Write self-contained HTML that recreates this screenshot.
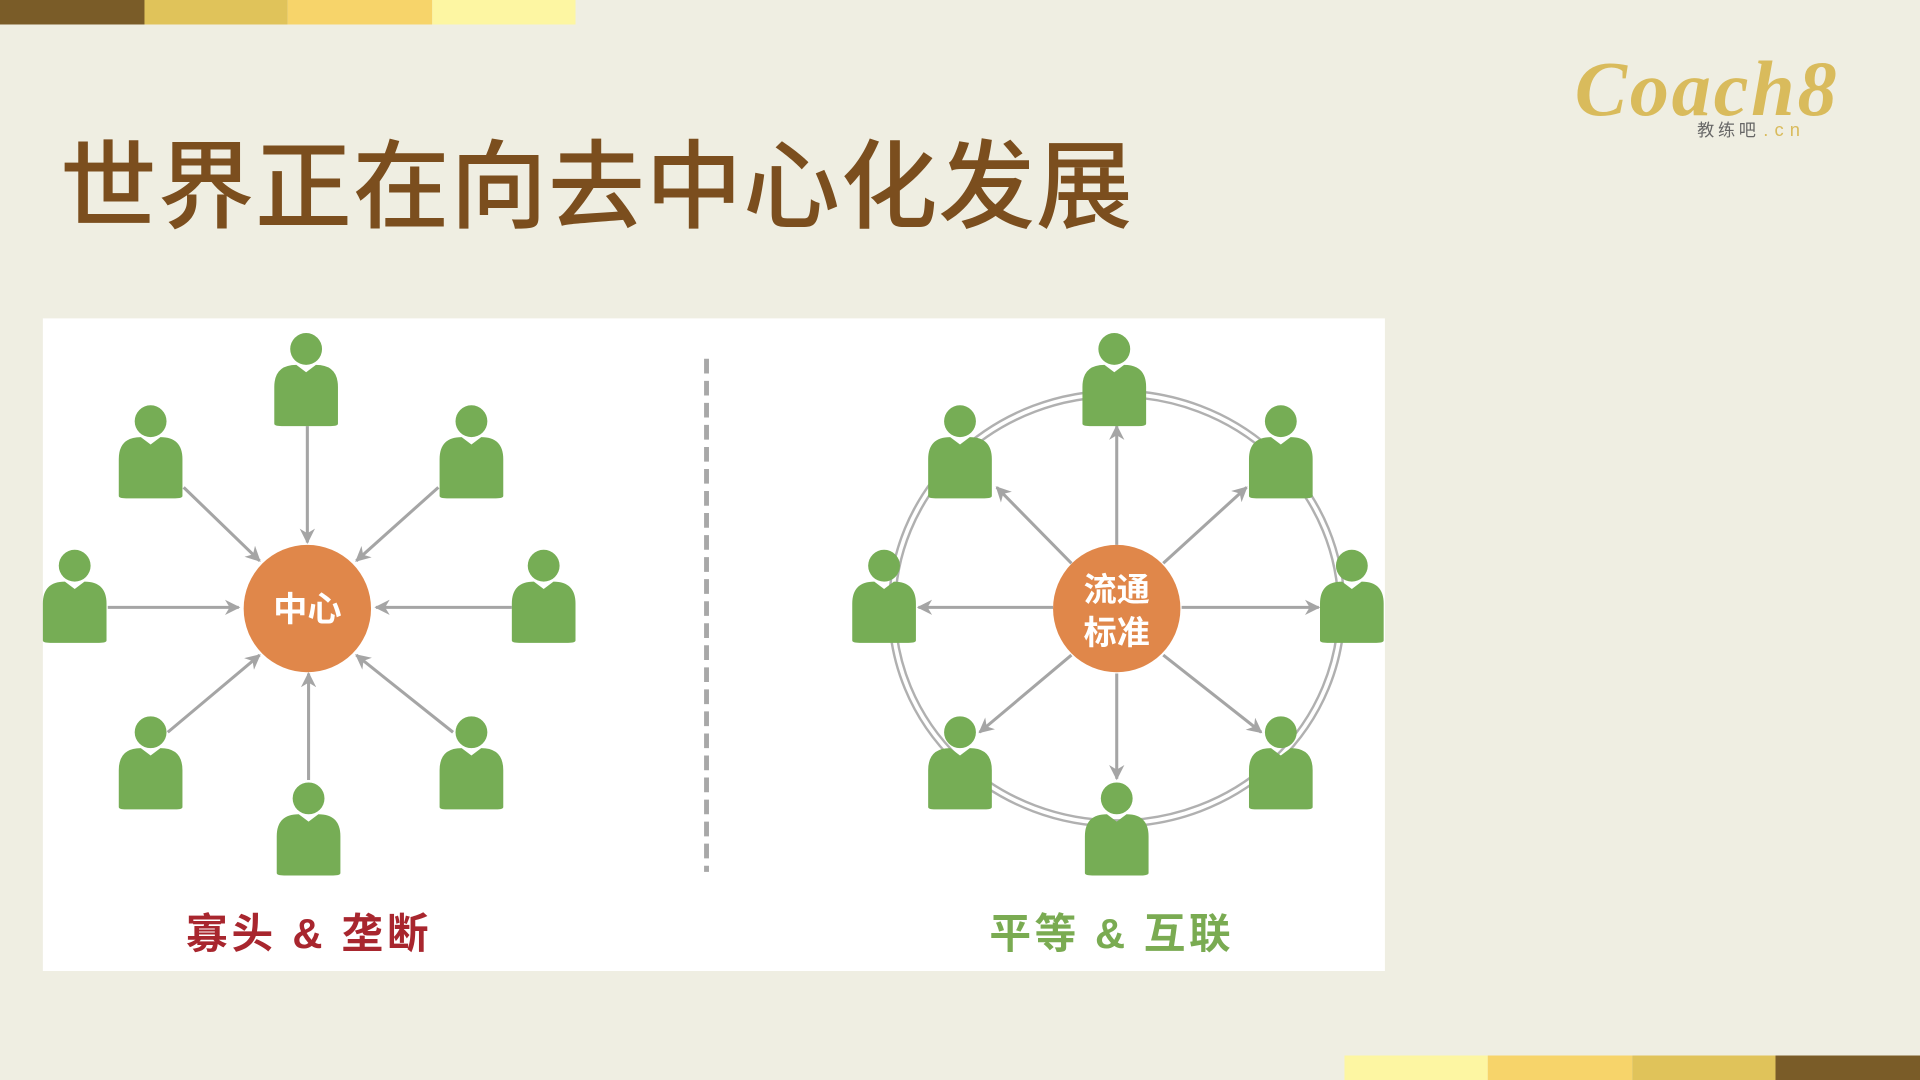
<!DOCTYPE html>
<html><head><meta charset="utf-8"><style>
html,body{margin:0;padding:0;background:#efeee2;}
svg{display:block}
</style></head><body>
<svg width="1920" height="1080" viewBox="0 0 1568 882" xmlns="http://www.w3.org/2000/svg">
<defs>
<marker id="ar" viewBox="0 0 10 10" refX="9" refY="5" markerWidth="5" markerHeight="5" orient="auto"><path d="M0,0 L10,5 L0,10 L3,5 z" fill="#a5a5a5"/></marker>
<g id="p"><circle cx="0" cy="-13" r="13" fill="#76ad55"/><path d="M-26,48 L-26,18 Q-26,0 -8,0 L0,6 L8,0 Q26,0 26,18 L26,48 Q26,50 20,50 L-20,50 Q-26,50 -26,48 z" fill="#76ad55"/></g>
</defs>
<rect width="1568" height="882" fill="#efeee2"/>
<rect x="0" y="0" width="118" height="20" fill="#7a5c28"/>
<rect x="118" y="0" width="117" height="20" fill="#e0c35a"/>
<rect x="235" y="0" width="118" height="20" fill="#f7d46a"/>
<rect x="353" y="0" width="117" height="20" fill="#fdf6a2"/>
<rect x="1098" y="862" width="117" height="20" fill="#fdf6a2"/>
<rect x="1215" y="862" width="118" height="20" fill="#f7d46a"/>
<rect x="1333" y="862" width="117" height="20" fill="#e0c35a"/>
<rect x="1450" y="862" width="118" height="20" fill="#7a5c28"/>
<text x="49" y="180" font-family="'Noto Sans CJK SC',sans-serif" font-size="79" font-weight="500" fill="#7b4e1e" textLength="876">世界正在向去中心化发展</text>
<text x="1286" y="94" font-family="Liberation Serif,serif" font-style="italic" font-weight="bold" font-size="64" fill="#d9bb5c" textLength="214">Coach8</text>
<text x="1386" y="111" font-family="'Noto Sans CJK SC',sans-serif" font-size="14" fill="#666" letter-spacing="3">教练吧</text>
<text x="1440" y="111" font-family="Liberation Sans,sans-serif" font-size="15" fill="#d9bb5c" letter-spacing="5">.cn</text>
<rect x="35" y="260" width="1096" height="533" fill="#ffffff"/>
<g stroke="#a5a5a5" stroke-width="2.5" marker-end="url(#ar)" fill="none">
<line x1="251" y1="348" x2="251" y2="443"/><line x1="88" y1="496" x2="195" y2="496"/><line x1="418" y1="496" x2="307" y2="496"/>
<line x1="150" y1="398" x2="212" y2="458"/><line x1="358" y1="398" x2="291" y2="458"/>
<line x1="137" y1="598" x2="212" y2="535"/><line x1="370" y1="598" x2="291" y2="535"/>
<line x1="252" y1="637" x2="252" y2="550"/>
</g>
<line x1="577" y1="293" x2="577" y2="712" stroke="#a8a8a8" stroke-width="4" stroke-dasharray="12 6"/>
<ellipse cx="912" cy="497" rx="186" ry="178" fill="none" stroke="#b0b0b0" stroke-width="2"/>
<ellipse cx="912" cy="497" rx="181" ry="173" fill="none" stroke="#b0b0b0" stroke-width="2"/>
<g stroke="#a5a5a5" stroke-width="2.5" marker-end="url(#ar)" fill="none">
<line x1="912" y1="445" x2="912" y2="348"/><line x1="860" y1="496" x2="750" y2="496"/><line x1="965" y1="496" x2="1077" y2="496"/>
<line x1="875" y1="460" x2="814" y2="398"/><line x1="950" y1="460" x2="1018" y2="398"/>
<line x1="875" y1="535" x2="800" y2="598"/><line x1="950" y1="535" x2="1030" y2="598"/>
<line x1="912" y1="550" x2="912" y2="636"/>
</g>
<use href="#p" x="250" y="298"/><use href="#p" x="123" y="357"/><use href="#p" x="385" y="357"/>
<use href="#p" x="61" y="475"/><use href="#p" x="444" y="475"/>
<use href="#p" x="123" y="611"/><use href="#p" x="385" y="611"/><use href="#p" x="252" y="665"/>
<use href="#p" x="910" y="298"/><use href="#p" x="784" y="357"/><use href="#p" x="1046" y="357"/>
<use href="#p" x="722" y="475"/><use href="#p" x="1104" y="475"/>
<use href="#p" x="784" y="611"/><use href="#p" x="1046" y="611"/><use href="#p" x="912" y="665"/>
<circle cx="251" cy="497" r="52" fill="#e0874a"/>
<circle cx="912" cy="497" r="52" fill="#e0874a"/>
<g font-family="Liberation Sans,'Noto Sans CJK SC',sans-serif" font-weight="bold" text-anchor="middle">
<text x="251" y="507" font-size="28" fill="#fff">中心</text>
<text x="912" y="491" font-size="27" fill="#fff">流通</text>
<text x="912" y="526" font-size="27" fill="#fff">标准</text>
</g>
<g font-family="Liberation Sans,'Noto Sans CJK SC',sans-serif" font-weight="bold">
<text x="152" y="774" font-size="34" fill="#a8262e" textLength="198">寡头 &amp; 垄断</text>
<text x="808" y="774" font-size="34" fill="#7aab52" textLength="197">平等 &amp; 互联</text>
</g>
</svg>
</body></html>
